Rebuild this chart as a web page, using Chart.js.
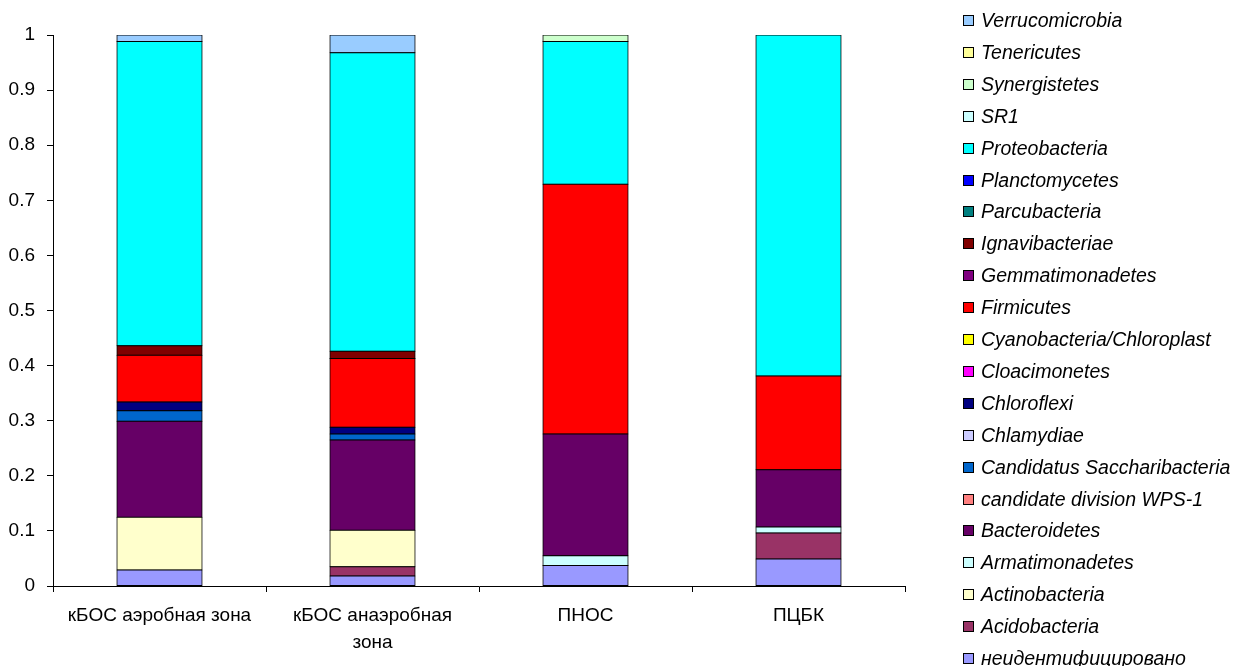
<!DOCTYPE html>
<html>
<head>
<meta charset="utf-8">
<script src="https://cdn.jsdelivr.net/npm/chart.js@4.4.0/dist/chart.umd.min.js"></script>
<style>
  body { margin: 0; background: #fff; }
  #wrap { position: relative; width: 1241px; height: 666px; }
  #legend { position: absolute; left: 963px; top: 0; font: italic 19.5px "Liberation Sans", Arial, sans-serif; color: #000; }
  .item { position: absolute; left: 0; white-space: nowrap; height: 22px; line-height: 22px; }
  .box { position: absolute; left: 0; top: 5px; width: 9px; height: 9px; border: 1px solid #000; }
  .txt { position: absolute; left: 18px; top: -1px; }
</style>
</head>
<body>
<div id="wrap">
  <canvas id="myChart" width="1241" height="666"></canvas>
  <div id="legend"></div>
</div>
<script>
// samples (x axis)
const samples = ['кБОС аэробная зона', ['кБОС анаэробная', 'зона'], 'ПНОС', 'ПЦБК']

// taxa, bottom of the stack first
const taxa = ['неидентифицировано', 'Acidobacteria', 'Actinobacteria', 'Armatimonadetes', 'Bacteroidetes',
  'candidate division WPS-1', 'Candidatus  Saccharibacteria', 'Chlamydiae', 'Chloroflexi', 'Cloacimonetes',
  'Cyanobacteria/Chloroplast', 'Firmicutes', 'Gemmatimonadetes', 'Ignavibacteriae', 'Parcubacteria',
  'Planctomycetes', 'Proteobacteria', 'SR1', 'Synergistetes', 'Tenericutes', 'Verrucomicrobia']
const colors = ['#9999FF', '#993366', '#FFFFCC', '#CCFFFF', '#660066',
  '#FF8080', '#0066CC', '#CCCCFF', '#000080', '#FF00FF',
  '#FFFF00', '#FF0000', '#800080', '#800000', '#008080',
  '#0000FF', '#00FFFF', '#CCFFFF', '#CCFFCC', '#FFFF99', '#99CCFF']

// share of each taxon per sample, same order as taxa
const aerobic   = [0.029, 0, 0.096, 0, 0.174, 0, 0.019, 0, 0.016, 0, 0, 0.085, 0, 0.017, 0, 0, 0.552, 0, 0, 0, 0.012]
const anaerobic = [0.018, 0.017, 0.066, 0, 0.164, 0, 0.011, 0, 0.012, 0, 0, 0.125, 0, 0.013, 0, 0, 0.542, 0, 0, 0, 0.032]
const pnos      = [0.037, 0, 0, 0.018, 0.221, 0, 0, 0, 0, 0, 0, 0.453, 0, 0, 0, 0, 0.259, 0, 0.012, 0, 0]
const pcbk      = [0.049, 0.047, 0, 0.011, 0.104, 0, 0, 0, 0, 0, 0, 0.170, 0, 0, 0, 0, 0.619, 0, 0, 0, 0]

const yTicks = [0, 0.1, 0.2, 0.3, 0.4, 0.5, 0.6, 0.7, 0.8, 0.9, 1]

const font = '"Liberation Sans", Arial, sans-serif'

// zero shares are left out so they draw nothing
const datasets = taxa.map((name, i) => ({
  label: name,
  data: [aerobic[i], anaerobic[i], pnos[i], pcbk[i]].map(v => v || null),
  backgroundColor: colors[i],
  borderColor: '#000',
  borderWidth: 1,
  borderSkipped: false,
  inflateAmount: 0.5,
  barPercentage: 0.4,
  categoryPercentage: 1.0
}))

new Chart(document.getElementById('myChart'), {
  type: 'bar',
  data: { labels: samples, datasets: datasets },
  options: {
    responsive: false,
    animation: false,
    layout: { padding: { top: 35, right: 336, bottom: 0, left: 0 } },
    plugins: { legend: { display: false }, tooltip: { enabled: false } },
    scales: {
      x: {
        stacked: true,
        grid: { drawOnChartArea: false, offset: true, tickLength: 6, color: '#000' },
        border: { color: '#000', width: 1 },
        ticks: { color: '#000', font: { family: font, size: 19, lineHeight: 1.38 }, padding: 11, maxRotation: 0, autoSkip: false },
        afterFit: s => { s.height = 80 }
      },
      y: {
        stacked: true,
        min: 0,
        max: 1,
        afterBuildTicks: s => { s.ticks = yTicks.map(v => ({ value: v })) },
        grid: { drawOnChartArea: false, tickLength: 6, color: '#000' },
        border: { color: '#000', width: 1 },
        ticks: { color: '#000', font: { family: font, size: 19 }, padding: 12, callback: v => String(+v.toFixed(1)) },
        afterFit: s => { s.width = 53 }
      }
    }
  }
})

// legend, top of the stack first like the original
const legend = document.getElementById('legend')
taxa.slice().reverse().forEach((name, k) => {
  const i = taxa.length - 1 - k
  const row = document.createElement('div')
  row.className = 'item'
  row.style.top = (10 + k * 31.9) + 'px'
  row.innerHTML = `<span class="box" style="background:${colors[i]}"></span><span class="txt">${name}</span>`
  legend.appendChild(row)
})
</script>
</body>
</html>
